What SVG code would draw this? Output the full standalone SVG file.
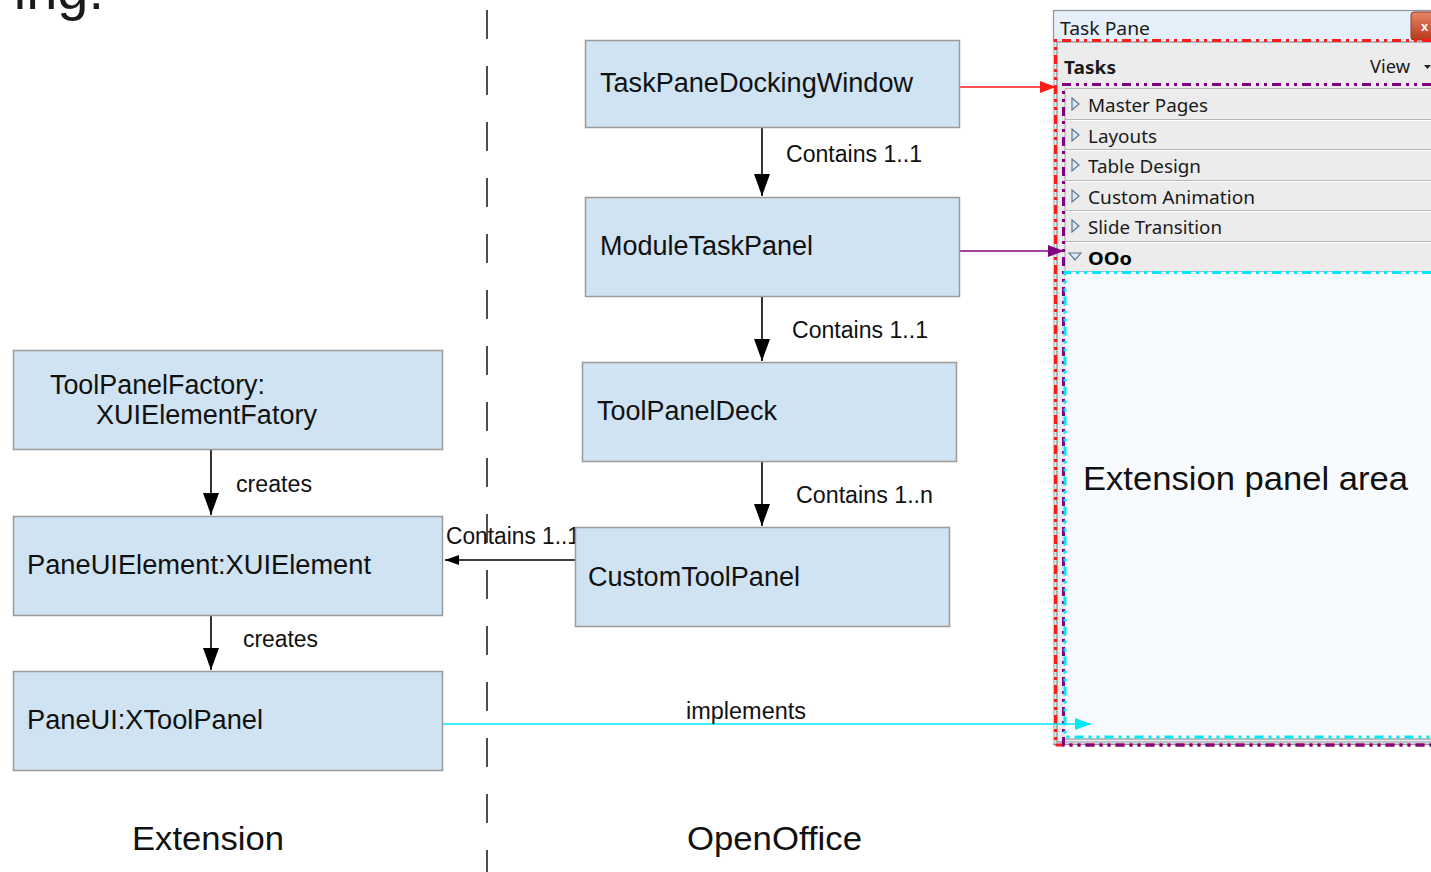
<svg xmlns="http://www.w3.org/2000/svg" width="1431" height="872" viewBox="0 0 1431 872">
<defs>
<style>
.box{fill:#cfe3f2;stroke:#9a9a9a;stroke-width:1.5}
.nt{font-family:"Liberation Sans",Arial,sans-serif;font-size:27px;fill:#111}
.lt{font-family:"Liberation Sans",Arial,sans-serif;font-size:23px;fill:#111}
.bt{font-family:"Liberation Sans",Arial,sans-serif;font-size:34px;fill:#111}
.tp{font-family:"Noto Sans","Open Sans",sans-serif;font-size:18px;fill:#1a1a1a}
.edge{fill:none;stroke:#000;stroke-width:1.6}
.row{fill:#ececec;stroke:none}
.sep{stroke:#b5b5b5;stroke-width:1.2}
.sepw{stroke:#ffffff;stroke-width:1}
.tri{fill:#dfe8f0;stroke:#5b7b95;stroke-width:1.2}
</style>
<linearGradient id="title" x1="0" y1="0" x2="0" y2="1">
<stop offset="0" stop-color="#e6f0fb"/>
<stop offset="1" stop-color="#cfe0f4"/>
</linearGradient>
<linearGradient id="close" x1="0" y1="0" x2="0" y2="1">
<stop offset="0" stop-color="#e8866a"/>
<stop offset="1" stop-color="#b8391a"/>
</linearGradient>
<marker id="ab" markerUnits="userSpaceOnUse" markerWidth="24" markerHeight="18" refX="22" refY="8" orient="auto">
<path d="M0,0 L22,8 L0,16 z" fill="#000"/>
</marker>
<marker id="as" markerUnits="userSpaceOnUse" markerWidth="16" markerHeight="12" refX="14" refY="5" orient="auto">
<path d="M0,0 L14,5 L0,10 z" fill="#000"/>
</marker>
<marker id="ar" markerUnits="userSpaceOnUse" markerWidth="18" markerHeight="14" refX="16" refY="6" orient="auto">
<path d="M0,0 L16,6 L0,12 z" fill="#ff1a1a"/>
</marker>
<marker id="ap" markerUnits="userSpaceOnUse" markerWidth="18" markerHeight="14" refX="16" refY="6" orient="auto">
<path d="M0,0 L16,6 L0,12 z" fill="#800080"/>
</marker>
<marker id="ac" markerUnits="userSpaceOnUse" markerWidth="18" markerHeight="14" refX="16" refY="6" orient="auto">
<path d="M0,0 L16,6 L0,12 z" fill="#00e8f5"/>
</marker>
</defs>
<rect width="1431" height="872" fill="#ffffff"/>

<text x="104" y="9" text-anchor="end" style="font-family:'Liberation Sans',Arial,sans-serif;font-size:56px;fill:#1a1a1a">ing:</text>

<line x1="487" y1="10" x2="487" y2="872" stroke="#222" stroke-width="1.6" stroke-dasharray="29 27"/>

<g id="taskpane">
<rect x="1053.5" y="10.5" width="390" height="734" fill="url(#title)" stroke="#8c939b" stroke-width="1.2"/>
<text x="1060" y="35" class="tp" textLength="90" lengthAdjust="spacingAndGlyphs">Task Pane</text>
<rect x="1411" y="12" width="24" height="28" rx="3" fill="url(#close)" stroke="#8a3a22" stroke-width="1"/>
<text x="1421" y="31" style="font-family:'Liberation Sans',sans-serif;font-size:13px;font-weight:bold;fill:#fff">x</text>
<rect x="1057" y="42" width="380" height="700" fill="#ececec" stroke="#9da3a8" stroke-width="1.5"/>
<line x1="1054" y1="42" x2="1054" y2="744" stroke="#c9ced4" stroke-width="2"/>
<text x="1064" y="74" class="tp" style="font-weight:bold" textLength="52" lengthAdjust="spacingAndGlyphs">Tasks</text>
<text x="1370" y="73" class="tp" textLength="40" lengthAdjust="spacingAndGlyphs">View</text>
<path d="M1424,65 L1431,65 L1427.5,69 z" fill="#222"/>
<line x1="1065" y1="88.5" x2="1431" y2="88.5" class="sep"/>
<line x1="1065" y1="119.5" x2="1431" y2="119.5" class="sep"/>
<line x1="1065" y1="120.5" x2="1431" y2="120.5" class="sepw"/>
<line x1="1065" y1="149.5" x2="1431" y2="149.5" class="sep"/>
<line x1="1065" y1="150.5" x2="1431" y2="150.5" class="sepw"/>
<line x1="1065" y1="180.5" x2="1431" y2="180.5" class="sep"/>
<line x1="1065" y1="181.5" x2="1431" y2="181.5" class="sepw"/>
<line x1="1065" y1="210.5" x2="1431" y2="210.5" class="sep"/>
<line x1="1065" y1="211.5" x2="1431" y2="211.5" class="sepw"/>
<line x1="1065" y1="241.5" x2="1431" y2="241.5" class="sep"/>
<line x1="1065" y1="242.5" x2="1431" y2="242.5" class="sepw"/>
<line x1="1065" y1="271.5" x2="1431" y2="271.5" class="sep"/>
<line x1="1065" y1="89" x2="1065" y2="272" class="sep"/>
<path d="M1072,98 L1079,104 L1072,110 z" class="tri"/>
<path d="M1072,129 L1079,135 L1072,141 z" class="tri"/>
<path d="M1072,159 L1079,165 L1072,171 z" class="tri"/>
<path d="M1072,190 L1079,196 L1072,202 z" class="tri"/>
<path d="M1072,220 L1079,226 L1072,232 z" class="tri"/>
<path d="M1069,253 L1081,253 L1075,260 z" class="tri"/>
<text x="1088" y="112" class="tp" textLength="120" lengthAdjust="spacingAndGlyphs">Master Pages</text>
<text x="1088" y="143" class="tp" textLength="69" lengthAdjust="spacingAndGlyphs">Layouts</text>
<text x="1088" y="173" class="tp" textLength="113" lengthAdjust="spacingAndGlyphs">Table Design</text>
<text x="1088" y="204" class="tp" textLength="167" lengthAdjust="spacingAndGlyphs">Custom Animation</text>
<text x="1088" y="234" class="tp" textLength="134" lengthAdjust="spacingAndGlyphs">Slide Transition</text>
<text x="1088" y="265" class="tp" style="font-weight:bold;fill:#000" textLength="44" lengthAdjust="spacingAndGlyphs">OOo</text>
<rect x="1065" y="272" width="366" height="466" fill="#f8fbfd"/>
<line x1="1065" y1="739" x2="1431" y2="739" stroke="#a7adb3" stroke-width="1.5"/>
<line x1="1065" y1="742" x2="1431" y2="742" stroke="#c5cad0" stroke-width="1.5"/>
<text x="1083" y="490" class="bt" textLength="325" lengthAdjust="spacingAndGlyphs">Extension panel area</text>
<path d="M1431,40.5 L1055.5,40.5 L1055.5,745 L1431,745" fill="none" stroke="#ff1a1a" stroke-width="3" stroke-dasharray="9 5 3 5 3 5"/>
<path d="M1431,84.5 L1063.5,84.5 L1063.5,745 L1431,745" fill="none" stroke="#800080" stroke-width="3" stroke-dasharray="9 5 3 5 3 5"/>
<path d="M1431,272.5 L1065,272.5 L1065,737 L1431,737" fill="none" stroke="#00e8f5" stroke-width="3" stroke-dasharray="9 5 3 5 3 5"/>
</g>

<g id="connectors">
<line x1="762" y1="128" x2="762" y2="196" class="edge" marker-end="url(#ab)"/>
<line x1="762" y1="297" x2="762" y2="361" class="edge" marker-end="url(#ab)"/>
<line x1="762" y1="462" x2="762" y2="526" class="edge" marker-end="url(#ab)"/>
<line x1="211" y1="450" x2="211" y2="515" class="edge" marker-end="url(#ab)"/>
<line x1="211" y1="616" x2="211" y2="670" class="edge" marker-end="url(#ab)"/>
<line x1="575" y1="560" x2="445" y2="560" class="edge" marker-end="url(#as)"/>
<line x1="960" y1="87" x2="1056" y2="87" stroke="#ff1a1a" stroke-width="1.6" marker-end="url(#ar)"/>
<line x1="960" y1="251" x2="1064" y2="251" stroke="#800080" stroke-width="1.6" marker-end="url(#ap)"/>
<line x1="443" y1="724" x2="1091" y2="724" stroke="#00e8f5" stroke-width="1.6" marker-end="url(#ac)"/>
<text x="786" y="162" class="lt" textLength="136" lengthAdjust="spacingAndGlyphs">Contains 1..1</text>
<text x="792" y="338" class="lt" textLength="136" lengthAdjust="spacingAndGlyphs">Contains 1..1</text>
<text x="796" y="503" class="lt" textLength="137" lengthAdjust="spacingAndGlyphs">Contains 1..n</text>
<text x="446" y="544" class="lt" textLength="134" lengthAdjust="spacingAndGlyphs">Contains 1..1</text>
<text x="236" y="492" class="lt" textLength="76" lengthAdjust="spacingAndGlyphs">creates</text>
<text x="243" y="647" class="lt" textLength="75" lengthAdjust="spacingAndGlyphs">creates</text>
<text x="686" y="719" class="lt" textLength="120" lengthAdjust="spacingAndGlyphs">implements</text>
</g>

<g id="n-taskpanedockingwindow">
<rect x="585.5" y="40.5" width="374" height="87" class="box"/>
<text x="600" y="92" class="nt" textLength="313" lengthAdjust="spacingAndGlyphs">TaskPaneDockingWindow</text>
</g>
<g id="n-moduletaskpanel">
<rect x="585.5" y="197.5" width="374" height="99" class="box"/>
<text x="600" y="255" class="nt" textLength="213" lengthAdjust="spacingAndGlyphs">ModuleTaskPanel</text>
</g>
<g id="n-toolpaneldeck">
<rect x="582.5" y="362.5" width="374" height="99" class="box"/>
<text x="597" y="420" class="nt" textLength="180" lengthAdjust="spacingAndGlyphs">ToolPanelDeck</text>
</g>
<g id="n-customtoolpanel">
<rect x="575.5" y="527.5" width="374" height="99" class="box"/>
<text x="588" y="586" class="nt" textLength="212" lengthAdjust="spacingAndGlyphs">CustomToolPanel</text>
</g>
<g id="n-toolpanelfactory">
<rect x="13.5" y="350.5" width="429" height="99" class="box"/>
<text x="50" y="394" class="nt" textLength="215" lengthAdjust="spacingAndGlyphs">ToolPanelFactory:</text>
<text x="96" y="424" class="nt" textLength="221" lengthAdjust="spacingAndGlyphs">XUIElementFatory</text>
</g>
<g id="n-paneuielement">
<rect x="13.5" y="516.5" width="429" height="99" class="box"/>
<text x="27" y="574" class="nt" textLength="344" lengthAdjust="spacingAndGlyphs">PaneUIElement:XUIElement</text>
</g>
<g id="n-paneui">
<rect x="13.5" y="671.5" width="429" height="99" class="box"/>
<text x="27" y="729" class="nt" textLength="236" lengthAdjust="spacingAndGlyphs">PaneUI:XToolPanel</text>
</g>

<text x="132" y="850" class="bt" textLength="152" lengthAdjust="spacingAndGlyphs">Extension</text>
<text x="687" y="850" class="bt" textLength="175" lengthAdjust="spacingAndGlyphs">OpenOffice</text>
</svg>
